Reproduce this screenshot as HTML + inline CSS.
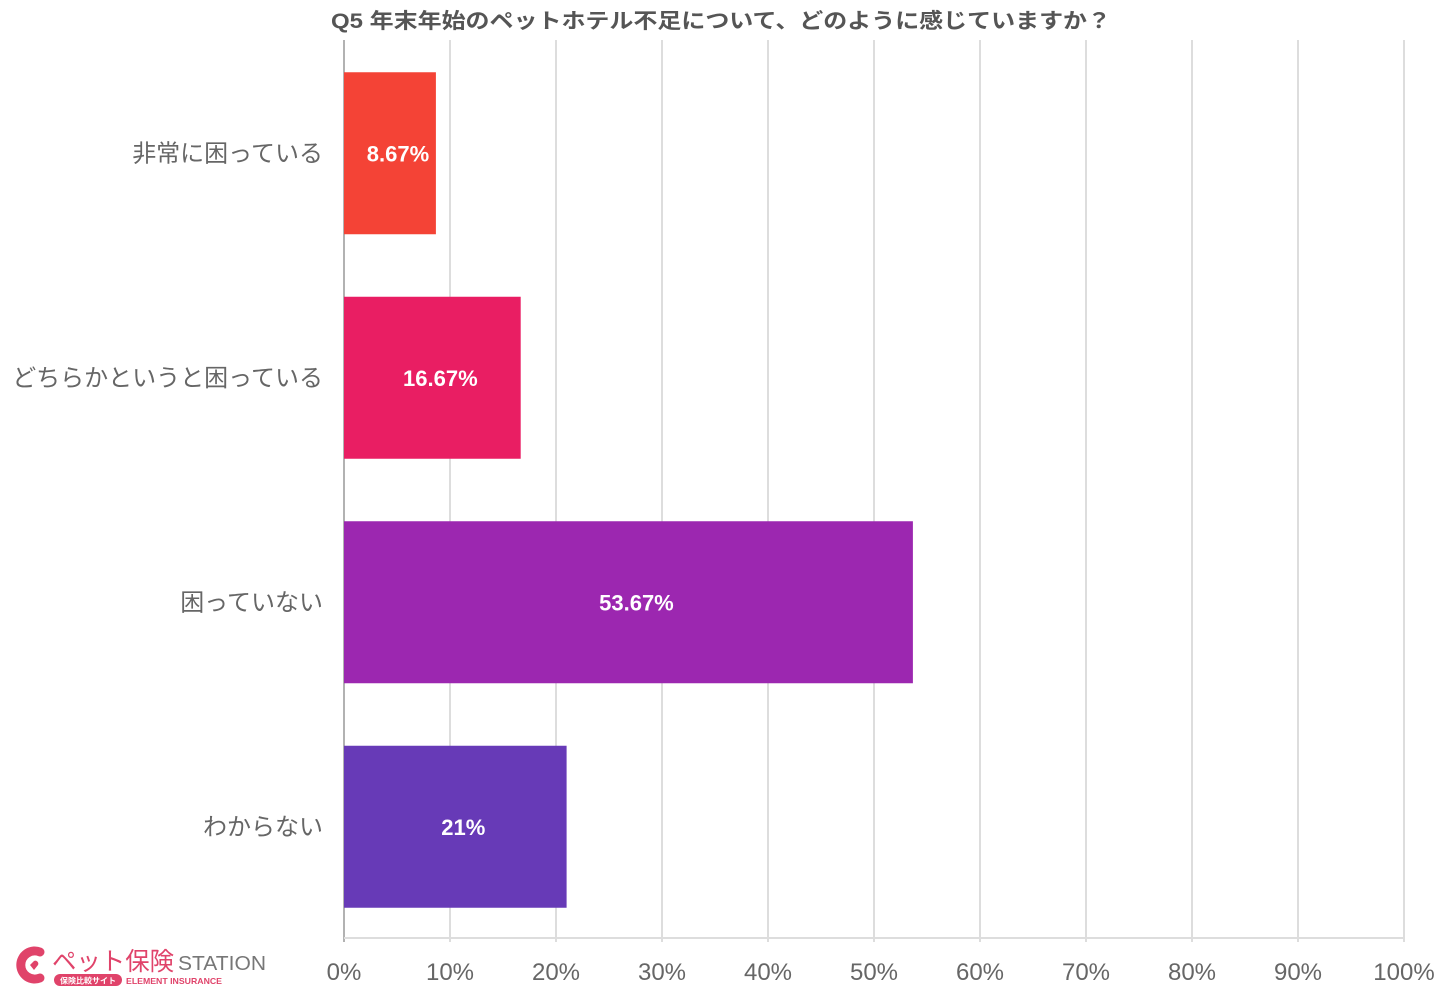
<!DOCTYPE html>
<html><head><meta charset="utf-8"><style>
body{margin:0;background:#fff;width:1442px;height:1000px;overflow:hidden;font-family:"Liberation Sans","Noto Sans CJK JP",sans-serif}
</style></head><body>
<svg id="chart" width="1442" height="1000" xmlns="http://www.w3.org/2000/svg" font-family="Liberation Sans, Noto Sans CJK JP, sans-serif">
<text x="721" y="28" text-anchor="middle" font-size="21" font-weight="bold" fill="#555" textLength="780" lengthAdjust="spacingAndGlyphs">Q5 年末年始のペットホテル不足について、どのように感じていますか？</text>
<g id="grid"></g><g id="bars"></g><g id="labels"></g>
<g>
<path d="M40 952 A14 14 0 1 0 40 978" stroke="#e0436a" stroke-width="9" fill="none" stroke-linecap="round"/>
<path d="M30 965 l4-4 a3 3 0 0 1 4 4 l-4 5 l-4-5 a3 3 0 0 1 0-0z" fill="#e0436a"/>
<text x="52" y="970" font-size="25" fill="#e0436a" textLength="122" lengthAdjust="spacingAndGlyphs">ペット保険</text>
<text x="178" y="970" font-size="20" fill="#777" textLength="88" lengthAdjust="spacingAndGlyphs">STATION</text>
<rect x="54" y="974" width="68" height="12" rx="6" fill="#e0436a"/>
<text x="88" y="983.5" font-size="8" fill="#fff" text-anchor="middle" font-weight="bold">保険比較サイト</text>
<text x="126" y="984" font-size="8.5" fill="#e0436a" font-weight="bold" textLength="96" lengthAdjust="spacingAndGlyphs">ELEMENT INSURANCE</text>
</g>
</svg>
<script>
const categories=["非常に困っている","どちらかというと困っている","困っていない","わからない"];
const values=[8.67,16.67,53.67,21];
const valueLabels=["8.67%","16.67%","53.67%","21%"];
const colors=["#f44336","#e91e63","#9c27b0","#673ab7"];
const ticks=[0,10,20,30,40,50,60,70,80,90,100];
const NS="http://www.w3.org/2000/svg";
const x0=344,x1=1404,yTop=40,yBot=938,band=224.5,barH=162;
const xs=v=>x0+(x1-x0)*v/100;
const yc=i=>yTop+band*i+band/2+1;
function mk(t,a,p){const e=document.createElementNS(NS,t);for(const k in a)e.setAttribute(k,a[k]);p.appendChild(e);return e;}
const g=document.getElementById('grid'),b=document.getElementById('bars'),l=document.getElementById('labels');
ticks.forEach(t=>{
 const ln=mk('line',{x1:xs(t),x2:xs(t),y1:yTop,y2:yBot+4,stroke:t===0?'#999':'#ddd','stroke-width':t===0?1.5:2},g);
 
 
 const tx=mk('text',{x:xs(t),y:980,'text-anchor':'middle','font-size':24,fill:'#666'},l);
 tx.textContent=t+'%';
 
 
});
mk('line',{x1:x0,x2:x1,y1:yBot,y2:yBot,stroke:'#ddd','stroke-width':2},g);
categories.forEach((c,i)=>{
 const y=yc(i);
 const r=mk('rect',{x:x0,y:y-barH/2,width:xs(values[i])-x0,height:barH,fill:colors[i]},b);
 
 
 const v=mk('text',{x:(x0+xs(values[i]))/2+8,y:y+8,'text-anchor':'middle','font-size':22,'font-weight':'bold',fill:'#fff'},l);
 v.textContent=valueLabels[i];
 
 
 const ct=mk('text',{x:323,y:y+8,'text-anchor':'end','font-size':24,fill:'#666'},l);
 ct.textContent=c;
 
 
});
</script>
</body></html>
